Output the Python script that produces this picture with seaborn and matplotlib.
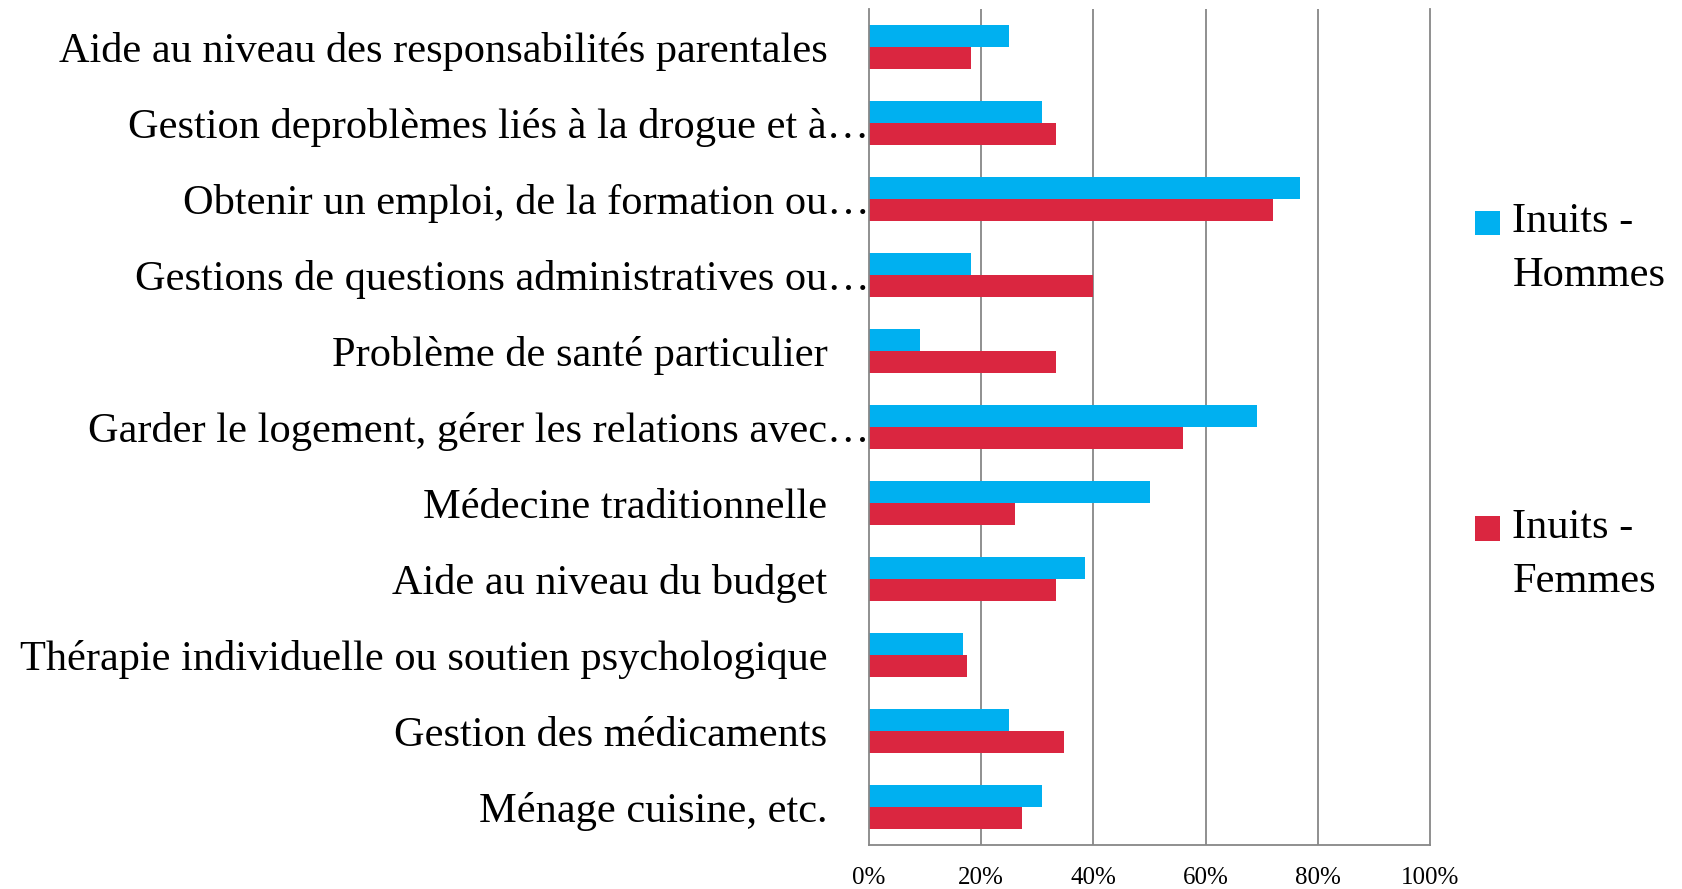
import matplotlib
matplotlib.use("Agg")
import matplotlib.pyplot as plt
import seaborn as sns
import pandas as pd
from matplotlib.patches import Rectangle
from matplotlib.legend_handler import HandlerBase
from matplotlib.transforms import ScaledTranslation

categories = [
    "Aide au niveau des responsabilités parentales",
    "Gestion deproblèmes liés à la drogue et à…",
    "Obtenir un emploi, de la formation ou…",
    "Gestions de questions administratives ou…",
    "Problème de santé particulier",
    "Garder le logement, gérer les relations avec…",
    "Médecine traditionnelle",
    "Aide au niveau du budget",
    "Thérapie individuelle ou soutien psychologique",
    "Gestion des médicaments",
    "Ménage cuisine, etc.",
]
truncated = [False, True, True, True, False, True, False, False, False, False, False]
hommes = [25.0, 30.8, 76.9, 18.2, 9.1, 69.2, 50.0, 38.5, 16.7, 25.0, 30.8]
femmes = [18.2, 33.3, 72.1, 40.0, 33.3, 56.0, 26.1, 33.3, 17.4, 34.8, 27.3]
series = ["Inuits -\nHommes", "Inuits -\nFemmes"]
colors = ["#00B0F0", "#DA2640"]
xticks = [0, 20, 40, 60, 80, 100]
xticklabels = ["0%", "20%", "40%", "60%", "80%", "100%"]

df = pd.DataFrame({
    "cat": categories * 2,
    "val": hommes + femmes,
    "serie": [series[0]] * len(categories) + [series[1]] * len(categories),
})

sns.set_style("white")
plt.rcParams["font.family"] = ["Liberation Serif", "DejaVu Serif"]
plt.rcParams["text.color"] = "black"
plt.rcParams["xtick.color"] = "black"
plt.rcParams["ytick.color"] = "black"

FS = 30.5

fig = plt.figure(figsize=(16.82, 8.89), dpi=100)
ax = fig.add_axes([869 / 1682, 1 - 845 / 889, (1430 - 869) / 1682, (845 - 9) / 889])

sns.barplot(data=df, y="cat", x="val", hue="serie", order=categories,
            hue_order=series, palette=colors, saturation=1, width=0.566,
            gap=0, orient="h", ax=ax, errorbar=None, linewidth=0, legend=False)

ax.set_xlim(0, 100)
ax.set_ylim(len(categories) - 0.5, -0.5)
ax.set_xlabel("")
ax.set_ylabel("")
ax.set_xticks(xticks)
ax.set_xticklabels(xticklabels, fontsize=18, color="black")
ax.tick_params(axis="x", length=0, pad=16)
ax.tick_params(axis="y", length=0, pad=30)
ax.set_yticks(range(len(categories)))
ax.set_yticklabels(categories, fontsize=FS, color="black")

grid_col = "#878787"
for v in xticks[1:-1]:
    ax.axvline(v, color=grid_col, lw=1.3, zorder=0)
ax.set_axisbelow(True)
for s in ["left", "bottom", "right"]:
    ax.spines[s].set_visible(True)
    ax.spines[s].set_color(grid_col)
    ax.spines[s].set_linewidth(1.3)
ax.spines["top"].set_visible(False)

shift = ScaledTranslation(42 / 100, 0, fig.dpi_scale_trans)
for lab, tr in zip(ax.get_yticklabels(), truncated):
    if tr:
        lab.set_transform(lab.get_transform() + shift)


class TopSquare(HandlerBase):
    def create_artists(self, legend, orig_handle, xdescent, ydescent,
                       width, height, fontsize, trans):
        s = width
        r = Rectangle((-xdescent, -ydescent + height - s), s, s,
                      facecolor=orig_handle.get_facecolor(), lw=0,
                      transform=trans)
        return [r]


handles = [Rectangle((0, 0), 1, 1, facecolor=c) for c in colors]
leg = fig.legend(handles, series, loc="upper left",
                 bbox_to_anchor=(1475 / 1682, 1 - 203 / 889),
                 frameon=False, fontsize=FS, borderpad=0, borderaxespad=0,
                 handlelength=0.58, handleheight=2.55, handletextpad=0.3,
                 labelspacing=5.03,
                 handler_map={Rectangle: TopSquare()})
for t in leg.get_texts():
    t.set_linespacing(1.52)
    t.set_color("black")

fig.savefig("out.png", dpi=100)
